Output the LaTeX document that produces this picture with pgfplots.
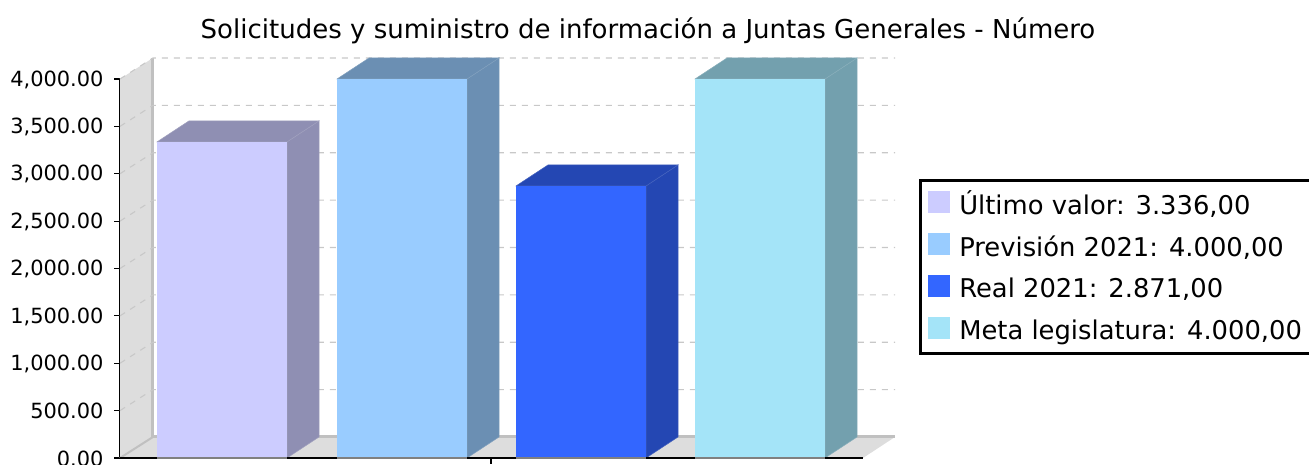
\documentclass[border=0pt]{standalone}
\usepackage{pgfplots}
\pgfplotsset{compat=1.18}
\usepackage{fontspec}
\setmainfont{DejaVu Sans}
\definecolor{cA}{HTML}{CCCCFF}\definecolor{sA}{HTML}{8F8FB3}
\definecolor{cB}{HTML}{99CCFF}\definecolor{sB}{HTML}{6B8FB3}
\definecolor{cC}{HTML}{3366FF}\definecolor{sC}{HTML}{2447B3}
\definecolor{cD}{HTML}{A4E4F8}\definecolor{sD}{HTML}{73A0AE}
\definecolor{wall}{HTML}{DDDDDD}\definecolor{wedge}{HTML}{C0C0C0}\definecolor{gridc}{HTML}{C8C8C8}
\pgfplotsset{
 poly/.style={forget plot,draw=#1!85!white,line width=0.5bp,fill=#1,mark=none},
 front/.style={forget plot,draw=none,fill=#1,mark=none},
 flat/.style={forget plot,draw=none,fill=#1,mark=none},
 gline/.style={forget plot,draw=gridc,line width=1.1bp,dash pattern=on 6bp off 6bp,mark=none},
 sq/.style={legend image code/.code={\fill[##1] (0bp,-9bp) rectangle (22bp,13bp);}},
}
\begin{document}
\begin{tikzpicture}[x=1bp,y=1bp]
\useasboundingbox (0,0) rectangle (1309,465);
\begin{axis}[
 at={(120bp,7bp)},anchor=south west,scale only axis,
 width=743bp,height=379bp,
 xmin=120,xmax=863,ymin=0,ymax=4000,clip=false,
 axis lines=left,axis line style={-,black,line width=1.1bp},
 x axis line style={draw=none},
 xtick={491},xticklabels={},
 ytick={0,500,1000,1500,2000,2500,3000,3500,4000},
 major tick length=6bp,
 tick style={black,line width=1.1bp},
 tick align=outside,
 yticklabel style={font=\fontsize{21}{24}\selectfont,xshift=-7bp,yshift=-0.7bp,text=black},
 /pgf/number format/assume math mode=true,
 /pgf/number format/fixed,/pgf/number format/fixed zerofill,/pgf/number format/precision=2,/pgf/number format/1000 sep={,},
 scaled y ticks=false,
 title={Solicitudes y suministro de información a Juntas Generales - Número},
 title style={at={(0.7106,1.111)},anchor=center,font=\fontsize{26.1}{30}\selectfont},
 legend style={at={(1.0754,0.7355)},anchor=north west,draw=black,line width=2.5bp,
   inner xsep=7.5bp,inner ysep=10bp,row sep=13.7bp,
   nodes={text height=24bp,text depth=4bp,inner ysep=0pt,inner xsep=9.5bp,font=\fontsize{25.9}{30}\selectfont,line width=0pt},
   legend cell align=left},
]
% walls
\addplot[flat=wall] coordinates {(120,0)(153,222)(153,4222)(120,4000)} --cycle;
\addplot[flat=wall] coordinates {(120,0)(153,222)(895,222)(863,0)} --cycle;
\addplot[forget plot,draw=wedge,line width=3bp,mark=none] coordinates {(152,4222)(152,222)(895,222)};
\addplot[forget plot,draw=wedge,line width=2bp,mark=none] coordinates {(120,0)(153,222)};
% grid
\addplot[gline] coordinates {(120,500)(153,722)(895,722)};
\addplot[gline] coordinates {(120,1000)(153,1222)(895,1222)};
\addplot[gline] coordinates {(120,1500)(153,1722)(895,1722)};
\addplot[gline] coordinates {(120,2000)(153,2222)(895,2222)};
\addplot[gline] coordinates {(120,2500)(153,2722)(895,2722)};
\addplot[gline] coordinates {(120,3000)(153,3222)(895,3222)};
\addplot[gline] coordinates {(120,3500)(153,3722)(895,3722)};
\addplot[gline] coordinates {(120,4000)(153,4222)(895,4222)};
% bar 1
\addplot[poly=sA] coordinates {(287,0)(319,222)(319,3558)(287,3336)} --cycle;
\addplot[poly=sA] coordinates {(157,3336)(189,3558)(319,3558)(287,3336)} --cycle;
\addplot[front=cA] coordinates {(157,0)(287,0)(287,3336)(157,3336)} --cycle;
% bar 2
\addplot[poly=sB] coordinates {(467,0)(499,222)(499,4222)(467,4000)} --cycle;
\addplot[poly=sB] coordinates {(337,4000)(369,4222)(499,4222)(467,4000)} --cycle;
\addplot[front=cB] coordinates {(337,0)(467,0)(467,4000)(337,4000)} --cycle;
% bar 3
\addplot[poly=sC] coordinates {(646,0)(678,222)(678,3093)(646,2871)} --cycle;
\addplot[poly=sC] coordinates {(516,2871)(548,3093)(678,3093)(646,2871)} --cycle;
\addplot[front=cC] coordinates {(516,0)(646,0)(646,2871)(516,2871)} --cycle;
% bar 4
\addplot[poly=sD] coordinates {(825,0)(857,222)(857,4222)(825,4000)} --cycle;
\addplot[poly=sD] coordinates {(695,4000)(727,4222)(857,4222)(825,4000)} --cycle;
\addplot[front=cD] coordinates {(695,0)(825,0)(825,4000)(695,4000)} --cycle;
% base line: black on the floor, grey under the bars
\addplot[forget plot,draw=black,line width=1.1bp,mark=none] coordinates {(120,0)(863,0)};
\addplot[forget plot,draw=gray,line width=1.2bp,mark=none] coordinates {(157,0)(287,0)};
\addplot[forget plot,draw=gray,line width=1.2bp,mark=none] coordinates {(337,0)(467,0)};
\addplot[forget plot,draw=gray,line width=1.2bp,mark=none] coordinates {(516,0)(646,0)};
\addplot[forget plot,draw=gray,line width=1.2bp,mark=none] coordinates {(695,0)(825,0)};
% legend
\addlegendimage{sq,fill=cA,draw=none}\addlegendentry{Último valor: 3.336,00}
\addlegendimage{sq,fill=cB,draw=none}\addlegendentry{Previsión 2021: 4.000,00}
\addlegendimage{sq,fill=cC,draw=none}\addlegendentry{Real 2021: 2.871,00}
\addlegendimage{sq,fill=cD,draw=none}\addlegendentry{Meta legislatura: 4.000,00}
\end{axis}
\end{tikzpicture}
\end{document}
